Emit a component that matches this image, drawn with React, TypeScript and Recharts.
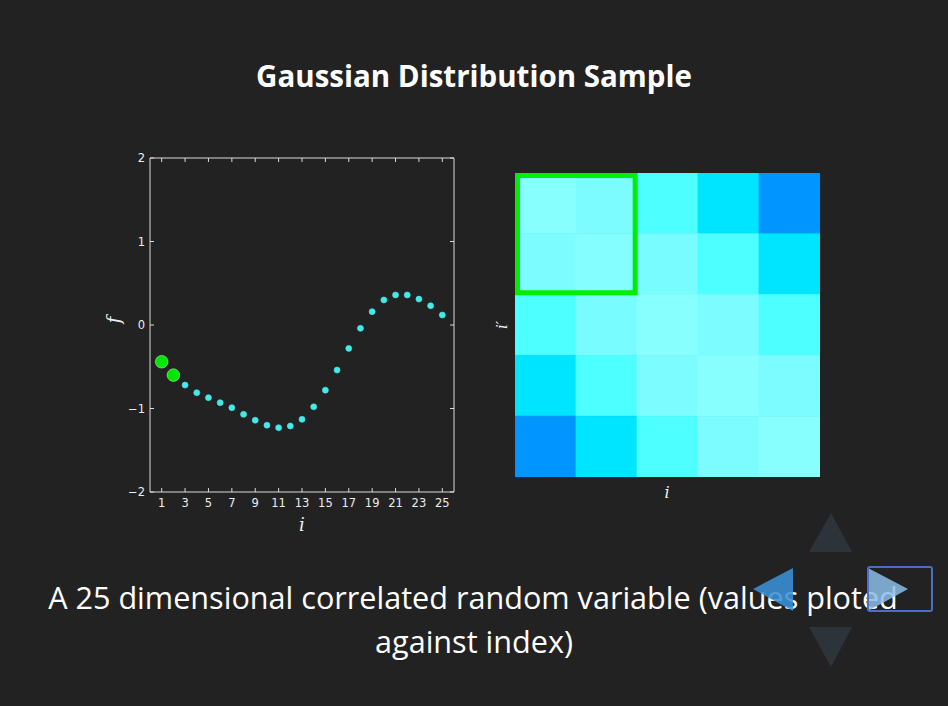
import React from 'react';
import { ScatterChart, Scatter, XAxis, YAxis, ReferenceArea } from 'recharts';

// --- Data ---
const indices = [1, 2, 3, 4, 5, 6, 7, 8, 9, 10, 11, 12, 13, 14, 15, 16, 17, 18, 19, 20, 21, 22, 23, 24, 25];
const fValues = [
    -0.44, -0.6, -0.72, -0.81, -0.87, -0.93, -0.99, -1.07, -1.14, -1.2, -1.23, -1.21, -1.13,
    -0.98, -0.78, -0.54, -0.28, -0.04, 0.16, 0.3, 0.36, 0.36, 0.31, 0.23, 0.12,
];
const highlighted = [1, 2];
const xTicks = [1, 3, 5, 7, 9, 11, 13, 15, 17, 19, 21, 23, 25];
const yTicks = [-2, -1, 0, 1, 2];

// 5x5 covariance sub-block shown as an image (row 0 at top)
const covariance = [
    [1.0, 0.92, 0.68, 0.38, 0.12],
    [0.92, 0.98, 0.9, 0.68, 0.38],
    [0.68, 0.9, 1.0, 0.92, 0.68],
    [0.38, 0.68, 0.92, 0.99, 0.92],
    [0.12, 0.38, 0.68, 0.92, 1.0],
];
const selectedBlock = { from: 0, to: 2 };

// --- Theme ---
const BG = '#222222';
const FRAME = '#dadada';
const TICK_TEXT = '#ececec';
const CYAN = '#44e9ea';
const GREEN = '#00e600';
const COLORMAP: [number, [number, number, number]][] = [
    [0.12, [0, 149, 255]],
    [0.38, [0, 229, 255]],
    [0.68, [77, 255, 255]],
    [0.92, [125, 252, 255]],
    [1.0, [136, 255, 255]],
];

function colorFor(v: number) {
    for (let k = 1; k < COLORMAP.length; k++) {
        const [v1, c1] = COLORMAP[k];
        const [v0, c0] = COLORMAP[k - 1];
        if (v <= v1) {
            const t = Math.max(0, (v - v0) / (v1 - v0));
            const c = c0.map((a, n) => Math.round(a + (c1[n] - a) * t));
            return `rgb(${c[0]},${c[1]},${c[2]})`;
        }
    }
    const c = COLORMAP[COLORMAP.length - 1][1];
    return `rgb(${c[0]},${c[1]},${c[2]})`;
}

const points = indices.map((i, n) => ({ i, f: fValues[n] }));
const normalPoints = points.filter((p) => !highlighted.includes(p.i));
const highlightPoints = points.filter((p) => highlighted.includes(p.i));
const cells = covariance.flatMap((row, r) => row.map((v, c) => ({ x: c + 0.5, y: r + 0.5, v })));

const fmt = (v: number) => (v < 0 ? `\u2212${Math.abs(v)}` : `${v}`);

// --- Ticks (matplotlib style, pointing inwards) ---
const BottomTick = ({ x, y, payload }: any) => (
    <g>
        <line x1={x} x2={x} y1={y} y2={y - 4} stroke={FRAME} />
        <text x={x} y={y + 15} textAnchor="middle" fill={TICK_TEXT} fontSize={11.5} fontFamily="DejaVu Sans">
            {payload.value}
        </text>
    </g>
);
const TopTick = ({ x, y }: any) => <line x1={x} x2={x} y1={y} y2={y + 4} stroke={FRAME} />;
const LeftTick = ({ x, y, payload }: any) => (
    <g>
        <line x1={x} x2={x + 4} y1={y} y2={y} stroke={FRAME} />
        <text x={x - 5} y={y + 4} textAnchor="end" fill={TICK_TEXT} fontSize={11.5} fontFamily="DejaVu Sans">
            {fmt(payload.value)}
        </text>
    </g>
);
const RightTick = ({ x, y }: any) => <line x1={x} x2={x - 4} y1={y} y2={y} stroke={FRAME} />;

const Dot = (r: number, fill: string, stroke: string) => (props: any) =>
    <circle cx={props.cx} cy={props.cy} r={r} fill={fill} stroke={stroke} strokeWidth={0.6} />;
const NoShape = () => <g />;

function SampleChart() {
    return (
        <ScatterChart width={370} height={400} margin={{ top: 17, right: 15, bottom: 0, left: 0 }}>
            <XAxis dataKey="i" type="number" domain={[0, 26]} ticks={xTicks} interval={0} height={48}
                tickSize={0} tickMargin={0} tickLine={false} axisLine={{ stroke: FRAME }} tick={<BottomTick />} />
            <XAxis xAxisId="top" dataKey="i" orientation="top" type="number" domain={[0, 26]} ticks={xTicks} interval={0}
                height={1} tickSize={0} tickMargin={0} tickLine={false} axisLine={{ stroke: FRAME }} tick={<TopTick />} />
            <YAxis dataKey="f" type="number" domain={[-2, 2]} ticks={yTicks} interval={0} width={50}
                tickSize={0} tickMargin={0} tickLine={false} axisLine={{ stroke: FRAME }} tick={<LeftTick />} />
            <YAxis yAxisId="right" dataKey="f" orientation="right" type="number" domain={[-2, 2]} ticks={yTicks} interval={0}
                width={1} tickSize={0} tickMargin={0} tickLine={false} axisLine={{ stroke: FRAME }} tick={<RightTick />} />
            <Scatter data={points} xAxisId="top" yAxisId="right" shape={NoShape} isAnimationActive={false} />
            <Scatter data={normalPoints} shape={Dot(3, CYAN, CYAN)} isAnimationActive={false} />
            <Scatter data={highlightPoints} shape={Dot(6.3, GREEN, '#9cff9c')} isAnimationActive={false} />
        </ScatterChart>
    );
}

function CovarianceChart() {
    const n = covariance.length;
    return (
        <ScatterChart width={305} height={304} margin={{ top: 0, right: 0, bottom: 0, left: 0 }}>
            <XAxis dataKey="x" type="number" domain={[0, n]} hide />
            <YAxis dataKey="y" type="number" domain={[0, n]} reversed hide />
            <Scatter data={cells} shape={NoShape} isAnimationActive={false} />
            {covariance.map((row, r) =>
                row.map((v, c) => (
                    <ReferenceArea key={`c-${r}-${c}`} x1={c} x2={c + 1} y1={r} y2={r + 1}
                        fill={colorFor(v)} fillOpacity={1} stroke={colorFor(v)} strokeWidth={0.8} />
                ))
            )}
            <ReferenceArea x1={selectedBlock.from + 0.04} x2={selectedBlock.to - 0.03}
                y1={selectedBlock.from + 0.04} y2={selectedBlock.to - 0.03}
                fill="none" fillOpacity={0} stroke="#00ee00" strokeWidth={5} />
        </ScatterChart>
    );
}

const labelFont = { fontFamily: 'DejaVu Serif', fontStyle: 'italic' as const, fill: '#f0f0f0' };

export default function App() {
    return (
        <div style={{ position: 'fixed', left: 0, top: 0, width: 948, height: 706, background: BG, overflow: 'hidden' }}>
            <div style={{ position: 'absolute', left: 0, top: 55, width: 948, textAlign: 'center', color: '#fff',
                fontFamily: 'Open Sans', fontWeight: 700, fontSize: 29.5 }}>
                Gaussian Distribution Sample
            </div>
            <div style={{ position: 'absolute', left: 100, top: 140 }}>
                <SampleChart />
            </div>
            <div style={{ position: 'absolute', left: 515, top: 173 }}>
                <CovarianceChart />
            </div>
            <svg width={948} height={706} style={{ position: 'absolute', left: 0, top: 0, pointerEvents: 'none' }}>
                <text x={120} y={320} fontSize={18} textAnchor="middle" transform="rotate(-90 120 320)" {...labelFont}>f</text>
                <text x={302} y={531} fontSize={18} textAnchor="middle" {...labelFont}>i</text>
                <text x={507} y={325} fontSize={15} textAnchor="middle" transform="rotate(-90 507 325)" {...labelFont}>i′</text>
                <text x={667} y={498} fontSize={16} textAnchor="middle" {...labelFont}>i</text>
                <text x={473} y={609} fontSize={30.6} textAnchor="middle" fill="#fff" fontFamily="Open Sans">
                    A 25 dimensional correlated random variable (values ploted
                </text>
                <text x={474} y={653} fontSize={30.6} textAnchor="middle" fill="#fff" fontFamily="Open Sans">
                    against index)
                </text>
                {/* navigation controls */}
                <polygon points="831,513 852,552 809,552" fill="#2c3439" />
                <polygon points="831,667 852,627 809,627" fill="#2c3439" />
                <polygon points="753,589 793,568 793,611" fill="#3a8fd6" opacity={0.88} />
                <polygon points="908,589 868,568 868,611" fill="#8cbde6" opacity={0.85} />
                <rect x={868} y={567} width={64} height={44} rx={2} fill="none" stroke="#4a6fc4" strokeWidth={2} />
            </svg>
        </div>
    );
}
